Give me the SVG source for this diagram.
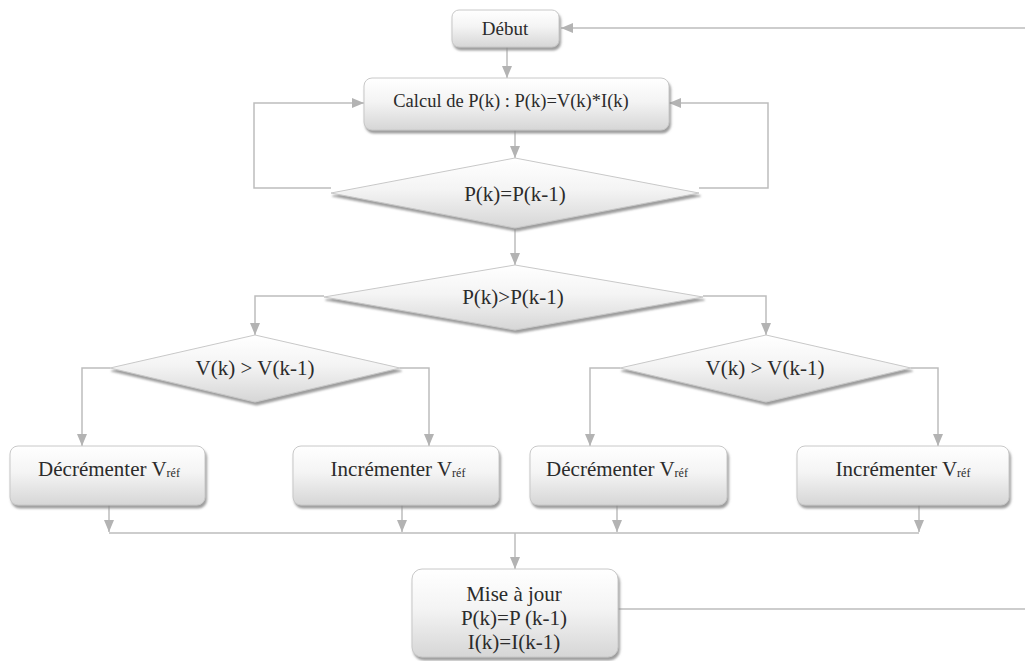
<svg xmlns="http://www.w3.org/2000/svg" width="1025" height="661" viewBox="0 0 1025 661">
<defs>
<linearGradient id="gBox" x1="0" y1="0" x2="0" y2="1">
<stop offset="0" stop-color="#ffffff"/>
<stop offset="0.45" stop-color="#f4f4f4"/>
<stop offset="1" stop-color="#d6d6d6"/>
</linearGradient>
<filter id="sh" x="-10%" y="-10%" width="120%" height="130%">
<feDropShadow dx="1.5" dy="3" stdDeviation="1.2" flood-color="#8c8c8c" flood-opacity="0.85"/>
</filter>
<marker id="ah" viewBox="0 0 12 12" refX="12" refY="6" markerWidth="12" markerHeight="12" markerUnits="userSpaceOnUse" orient="auto">
<path d="M0,1 L12,6 L0,11 Z" fill="#b3b3b3"/>
</marker>
</defs>
<style>
.node{fill:url(#gBox);stroke:#c8c8c8;stroke-width:1;filter:url(#sh)}
.t{fill:#2b2b2b;text-anchor:middle}
.c{fill:none;stroke:#bdbdbd;stroke-width:1.5}
.a{marker-end:url(#ah)}
</style>
<rect width="1025" height="661" fill="#ffffff"/>
<g id="connectors">
<path class="c a" d="M1025,28 L561,28"/>
<path class="c a" d="M507,47 L507,78"/>
<path class="c a" d="M515,130 L515,158"/>
<path class="c a" d="M331,188 L254,188 L254,103 L364,103"/>
<path class="c a" d="M699,188 L768,188 L768,103 L669,103"/>
<path class="c a" d="M515,228 L515,265"/>
<path class="c a" d="M324,296 L255,296 L255,335"/>
<path class="c a" d="M703,296 L766,296 L766,335"/>
<path class="c a" d="M110,368 L82,368 L82,446"/>
<path class="c a" d="M400,368 L429,368 L429,446"/>
<path class="c a" d="M620,368 L590,368 L590,446"/>
<path class="c a" d="M911,368 L938,368 L938,446"/>
<path class="c a" d="M109,505 L109,532"/>
<path class="c a" d="M402,505 L402,532"/>
<path class="c a" d="M617,505 L617,532"/>
<path class="c a" d="M919,505 L919,532"/>
<path class="c" d="M109,533 L919,533"/>
<path class="c a" d="M515,533 L515,569"/>
<path class="c" d="M618,609 L1025,609"/>
</g>
<g font-family="'Liberation Serif', 'Times New Roman', 'DejaVu Serif', serif">
<g id="debut">
<rect class="node" x="452" y="10" width="107" height="37" rx="7"/>
<text class="t" x="505" y="35" font-size="19">Début</text>
</g>
<g id="calcul">
<rect class="node" x="364" y="78" width="305" height="52" rx="8"/>
<text class="t" x="511" y="107" font-size="18.5">Calcul de P(k) : P(k)=V(k)*I(k)</text>
</g>
<g id="test-egal">
<polygon class="node" points="515,158 699,193 515,228 331,193"/>
<text class="t" x="515" y="201" font-size="21">P(k)=P(k-1)</text>
</g>
<g id="test-sup">
<polygon class="node" points="515,265 703,297 515,330 324,297"/>
<text class="t" x="513" y="304" font-size="21">P(k)&gt;P(k-1)</text>
</g>
<g id="test-v-gauche">
<polygon class="node" points="255,335 400,368 255,402 110,368"/>
<text class="t" x="255" y="375" font-size="21">V(k) &gt; V(k-1)</text>
</g>
<g id="test-v-droite">
<polygon class="node" points="766,335 911,368 766,402 620,368"/>
<text class="t" x="765" y="375" font-size="21">V(k) &gt; V(k-1)</text>
</g>
<g id="decrementer-1">
<rect class="node" x="10" y="446" width="195" height="59" rx="8"/>
<text class="t" x="109" y="476" font-size="21">Décrémenter V<tspan font-size="12" dy="1">réf</tspan></text>
</g>
<g id="incrementer-1">
<rect class="node" x="293" y="446" width="206" height="59" rx="8"/>
<text class="t" x="398" y="476" font-size="21">Incrémenter V<tspan font-size="12" dy="1">réf</tspan></text>
</g>
<g id="decrementer-2">
<rect class="node" x="530" y="446" width="197" height="59" rx="8"/>
<text class="t" x="617" y="476" font-size="21">Décrémenter V<tspan font-size="12" dy="1">réf</tspan></text>
</g>
<g id="incrementer-2">
<rect class="node" x="797" y="446" width="212" height="59" rx="8"/>
<text class="t" x="903" y="476" font-size="21">Incrémenter V<tspan font-size="12" dy="1">réf</tspan></text>
</g>
<g id="mise-a-jour">
<rect class="node" x="412" y="569" width="206" height="88" rx="10"/>
<text class="t" x="514" y="601" font-size="21">Mise à jour</text>
<text class="t" x="514" y="625" font-size="21">P(k)=P (k-1)</text>
<text class="t" x="514" y="649" font-size="21">I(k)=I(k-1)</text>
</g>
</g>
</svg>
